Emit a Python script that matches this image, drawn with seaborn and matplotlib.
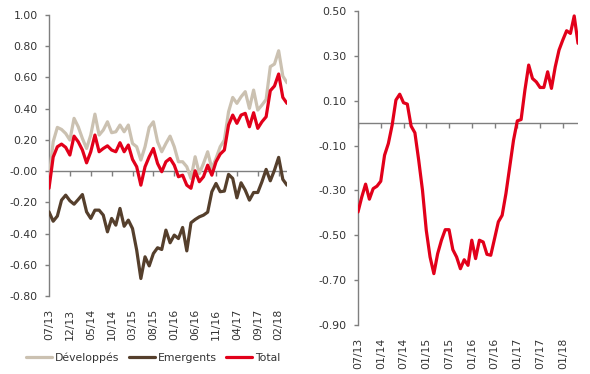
import matplotlib
matplotlib.use("Agg")
import matplotlib.pyplot as plt
import numpy as np
import pandas as pd
import seaborn as sns

# left panel: monthly, 07/13 -> 04/18
developpes = [-0.05, 0.188, 0.280, 0.267, 0.241, 0.199, 0.338, 0.284, 0.209, 0.145,
              0.231, 0.365, 0.231, 0.263, 0.316, 0.246, 0.252, 0.295, 0.252, 0.295,
              0.177, 0.156, 0.071, 0.156, 0.280, 0.316, 0.188, 0.124, 0.177, 0.224,
              0.156, 0.060, 0.060, 0.028, -0.047, 0.092, -0.015, 0.049, 0.124, 0.017,
              0.081, 0.156, 0.199, 0.380, 0.472, 0.434, 0.476, 0.509, 0.402, 0.519,
              0.391, 0.423, 0.459, 0.669, 0.686, 0.771, 0.609, 0.566]
emergents = [-0.261, -0.321, -0.288, -0.186, -0.154, -0.190, -0.212, -0.182, -0.150, -0.261,
             -0.303, -0.250, -0.250, -0.282, -0.389, -0.303, -0.346, -0.239, -0.353, -0.314,
             -0.368, -0.506, -0.688, -0.549, -0.607, -0.528, -0.491, -0.502, -0.378, -0.459,
             -0.410, -0.432, -0.361, -0.511, -0.331, -0.310, -0.293, -0.282, -0.263, -0.132,
             -0.079, -0.132, -0.128, -0.021, -0.047, -0.171, -0.075, -0.122, -0.186, -0.137,
             -0.137, -0.068, 0.011, -0.062, 0.006, 0.088, -0.053, -0.090]
total = [-0.110, 0.090, 0.156, 0.173, 0.152, 0.103, 0.224, 0.188, 0.135, 0.053,
         0.124, 0.231, 0.124, 0.145, 0.162, 0.135, 0.124, 0.182, 0.124, 0.167,
         0.075, 0.028, -0.090, 0.028, 0.092, 0.145, 0.049, -0.004, 0.060, 0.081,
         0.038, -0.036, -0.026, -0.090, -0.110, 0.002, -0.068, -0.036, 0.038, -0.026,
         0.060, 0.109, 0.135, 0.295, 0.359, 0.306, 0.359, 0.370, 0.284, 0.374,
         0.274, 0.316, 0.348, 0.515, 0.545, 0.622, 0.472, 0.434]
left_labels = ["07/13", "12/13", "05/14", "10/14", "03/15", "08/15",
               "01/16", "06/16", "11/16", "04/17", "09/17", "02/18"]

# right panel: monthly, 07/13 -> 05/18
spread = [-0.396, -0.329, -0.272, -0.339, -0.292, -0.281, -0.259, -0.143, -0.091, -0.009,
          0.103, 0.129, 0.091, 0.085, -0.013, -0.043, -0.165, -0.299, -0.478, -0.597,
          -0.671, -0.582, -0.522, -0.475, -0.475, -0.564, -0.597, -0.649, -0.609, -0.634,
          -0.522, -0.604, -0.522, -0.530, -0.585, -0.589, -0.515, -0.440, -0.411, -0.314,
          -0.195, -0.076, 0.010, 0.016, 0.147, 0.259, 0.199, 0.184, 0.159, 0.159,
          0.229, 0.155, 0.251, 0.326, 0.371, 0.412, 0.400, 0.478, 0.356]
right_labels = ["07/13", "01/14", "07/14", "01/15", "07/15",
                "01/16", "07/16", "01/17", "07/17", "01/18"]

C_DEV = "#CBC1B1"
C_EMG = "#553F2C"
C_TOT = "#E2001A"
GRAY = "#7F7F7F"
TXT = "#333333"

sns.set_style("white")
plt.rcParams["font.family"] = ["DejaVu Sans"]
plt.rcParams["axes.unicode_minus"] = False
plt.rcParams["ytick.left"] = True

fig = plt.figure(figsize=(5.9, 3.74), dpi=100)
ax1 = fig.add_axes([49 / 590, 1 - 296 / 374, 238 / 590, 281 / 374])
ax2 = fig.add_axes([358 / 590, 1 - 325 / 374, 220 / 590, 314 / 374])

df = pd.DataFrame({"Développés": developpes, "Emergents": emergents, "Total": total})
df["i"] = np.arange(len(df))
for col, c in [("Développés", C_DEV), ("Emergents", C_EMG), ("Total", C_TOT)]:
    sns.lineplot(data=df, x="i", y=col, ax=ax1, color=c, lw=2.3, label=col, zorder=3)

dr = pd.DataFrame({"i": np.arange(len(spread)), "v": spread})
sns.lineplot(data=dr, x="i", y="v", ax=ax2, color=C_TOT, lw=2.3, zorder=3)


def style(ax, n, step, labels, ylim, yticks):
    ax.set_xlim(0, n - 1)
    ax.set_ylim(*ylim)
    ax.set_yticks(yticks)
    ax.set_yticklabels([f"{t:.2f}" for t in yticks])
    ax.set_xlabel("")
    ax.set_ylabel("")
    ticks = np.arange(0, n, step)[: len(labels)]

    # tick labels at the bottom of the panel
    ax.set_xticks(ticks, labels)
    ax.tick_params(axis="x", length=0, labelrotation=90, labelsize=7.8,
                   labelcolor=TXT, pad=9)
    for s in ["top", "right", "bottom"]:
        ax.spines[s].set_visible(False)
    ax.spines["left"].set_color(GRAY)
    ax.spines["left"].set_linewidth(1.0)
    ax.tick_params(axis="y", left=True, length=3, width=1.0, color=GRAY,
                   direction="out", labelsize=7.8, labelcolor=TXT, pad=5)

    # category axis line and its tick marks on the zero line (5 px long)
    h_px = ax.get_position().height * fig.get_figheight() * fig.dpi
    tick_len = 5 * (ylim[1] - ylim[0]) / h_px
    ax.axhline(0, color=GRAY, lw=1.0, zorder=2)
    ax.vlines(ticks, -tick_len, 0, color=GRAY, lw=1.0, zorder=2)
    ax.grid(False)


style(ax1, len(total), 5, left_labels, (-0.8, 1.0), np.arange(-0.8, 1.01, 0.2))
style(ax2, len(spread), 6, right_labels, (-0.9, 0.5), np.arange(-0.9, 0.51, 0.2))

handles, labs = ax1.get_legend_handles_labels()
ax1.legend(handles, labs, loc="center", bbox_to_anchor=(153 / 590, 1 - 358 / 374),
           bbox_transform=fig.transFigure, ncol=3, frameon=False, fontsize=7.8,
           handlelength=2.4, handletextpad=0.25, columnspacing=0.9,
           labelcolor=TXT)

fig.savefig("out.png", dpi=100)
